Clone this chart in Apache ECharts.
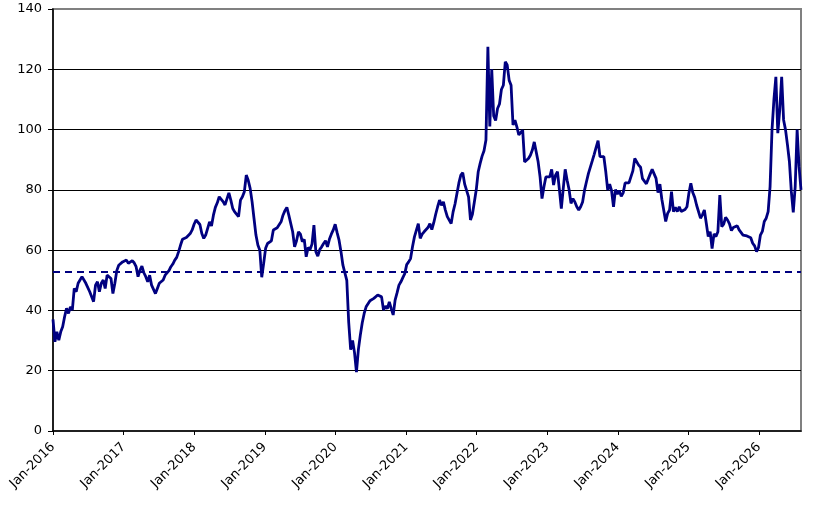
<!DOCTYPE html>
<html>
<head>
<meta charset="utf-8">
<script src="https://cdn.jsdelivr.net/npm/echarts@6/dist/echarts.min.js"></script>
<style>
html,body{margin:0;padding:0;background:#fff;}
#chart{width:825px;height:510px;}
</style>
</head>
<body>
<div id="chart"></div>
<script>
// Series sampled every 10 days starting 1 Jan 2016
const startDate = Date.UTC(2016, 0, 1);
const stepDays = 10;
const values = [
  37, 29.6, 32.9, 30.1, 32.9, 34.6, 37.9, 40.7, 39.0, 41.2,
  40.1, 47.3, 46.2, 49.0, 49.5, 51.2, 51.7, 49.0, 49.5, 46.2,
  46.2, 42.9, 48.4, 49.5, 46.2, 49.0, 50.1, 47.3, 51.7, 52.0,
  50.6, 45.6, 49.0, 53.2, 55.0, 55.0, 56.1, 55.8, 56.7, 55.6,
  56.1, 56.5, 55.8, 54.5, 51.2, 53.4, 54.7, 52.5, 51.2, 49.5,
  51.7, 48.4, 48.1, 45.6, 47.3, 49.0, 48.4, 50.1, 51.7, 51.4,
  53.2, 54.5, 55.4, 56.7, 57.6, 59.5, 61.7, 63.6, 63.1, 64.2,
  63.9, 65.5, 66.7, 68.6, 70.0, 70.3, 68.5, 65.5, 63.9, 65.0,
  65.5, 69.4, 68.0, 71.6, 74.2, 75.7, 77.7, 78.3, 76.1, 75.0,
  74.4, 79.0, 76.6, 73.8, 72.7, 73.3, 71.1, 76.6, 77.7, 79.4,
  84.9, 83.2, 80.5, 76.1, 70.5, 65.0, 61.7, 60.0, 51.0, 55.6,
  60.6, 62.2, 62.4, 63.1, 66.7, 66.1, 67.4, 68.0, 69.4, 71.6,
  73.1, 74.2, 71.6, 72.2, 66.1, 61.1, 63.1, 66.1, 65.3, 62.8,
  63.6, 57.8, 60.9, 60.2, 62.0, 68.3, 59.5, 58.0, 60.2, 61.1,
  62.2, 63.1, 61.1, 63.6, 65.3, 66.7, 68.6, 65.8, 63.3, 59.5,
  55.0, 54.5, 50.0, 36, 27, 30, 26, 19.5, 27, 31.8,
  35.9, 39.0, 41.2, 41.7, 43.2, 43.2, 44.0, 44.5, 45.1, 45.6,
  44.5, 40.1, 41.4, 40.6, 42.8, 40.6, 38.5, 43.4, 45.8, 48.4,
  49.5, 50.9, 52.2, 55.2, 56.1, 57.2, 61.1, 64.4, 64.4, 68.8,
  63.9, 65.3, 66.1, 66.1, 67.5, 68.8, 66.8, 69.1, 71.9, 74.4,
  76.6, 74.9, 76.0, 73.3, 71.1, 70.5, 68.8, 72.7, 75.3, 78.8,
  82.3, 84.9, 85.7, 81.9, 82.1, 77.7, 70.0, 71.9, 76.0, 80.1,
  86.0, 88.8, 91.2, 93.0, 96.5, 127.5, 101, 120, 104.5, 103,
  107, 108.5, 113.3, 114.7, 122.5, 121.4, 116.4, 114.7, 101.5, 103.1,
  100.9, 98.2, 98.7, 99.8, 89.3, 89.9, 90.4, 91.5, 93.2, 95.9,
  96.5, 89.3, 84.3, 77.1, 81.0, 84.3, 83.8, 84.3, 86.8, 81.6,
  84.9, 86.0, 80.1, 73.8, 80.5, 86.8, 83.2, 80.1, 75.5, 77.1,
  76.0, 74.4, 73.3, 74.4, 76.0, 79.9, 82.7, 85.4, 86.0, 89.6,
  91.8, 94.1, 96.3, 91.0, 90.4, 91.0, 86.0, 79.9, 81.9, 79.7,
  74.4, 80.1, 78.6, 79.7, 77.9, 79.0, 82.3, 82.9, 82.3, 84.3,
  86.3, 90.4, 90.1, 88.2, 87.5, 83.7, 83.1, 82, 81.5, 85.3,
  86.8, 86.4, 83.8, 79.1, 81.9, 76.9, 76.6, 69.5, 72.2, 73.3,
  79.4, 72.8, 74.2, 72.8, 74.4, 72.8, 72.8, 73.5, 74.4, 78.9,
  82.2, 79.1, 77.5, 74.9, 74.4, 70.6, 71.7, 73.3, 68.9, 64.5,
  66.1, 60.5, 65.4, 64.5, 66.1, 78.3, 67.8, 68.6, 70.9, 70.0,
  68.7, 66.5, 67.5, 67.8, 68.1, 66.7, 66.1, 65.0, 64.5, 64.7,
  64.3, 64.1, 62.3, 61.4, 59.5, 60.8, 65.0, 66.2, 69.5, 70.6,
  72.8, 81.1, 99.9, 110, 117.5, 98.8, 106.5, 117.5, 103.2, 99.9,
  94.9, 89.4, 79.4, 72.5, 81.1, 100, 87.7, 80
];
const referenceLevel = 52.7;
const yTicks = { min: 0, max: 140, interval: 20 };
const monthNames = ['Jan','Feb','Mar','Apr','May','Jun','Jul','Aug','Sep','Oct','Nov','Dec'];

const DAY = 86400000;
const seriesData = values.map((v, i) => [startDate + i * stepDays * DAY, v]);
const endDate = seriesData[seriesData.length - 1][0];

const chart = echarts.init(document.getElementById('chart'), null, { renderer: 'canvas' });
chart.setOption({
  animation: false,
  useUTC: true,
  backgroundColor: '#ffffff',
  grid: {
    left: 53, right: 24, top: 9, bottom: 79,
    show: true, borderColor: '#808080', borderWidth: 2, backgroundColor: '#ffffff'
  },
  xAxis: {
    type: 'time',
    min: startDate,
    max: endDate,
    minInterval: 365 * DAY,
    maxInterval: 366 * DAY,
    axisLine: { show: true, lineStyle: { color: '#000', width: 1.5 } },
    axisTick: { show: true, length: 4, lineStyle: { color: '#000' } },
    splitLine: { show: false },
    axisLabel: {
      rotate: 45,
      margin: 14,
      color: '#000',
      fontFamily: 'DejaVu Sans',
      fontSize: 13,
      showMaxLabel: false,
      hideOverlap: false,
      formatter: function (val) {
        const d = new Date(val);
        return monthNames[d.getUTCMonth()] + '-' + d.getUTCFullYear();
      }
    }
  },
  yAxis: {
    type: 'value',
    min: yTicks.min, max: yTicks.max, interval: yTicks.interval,
    axisLine: { show: true, lineStyle: { color: '#000', width: 1.5 } },
    axisTick: { show: true, length: 5, lineStyle: { color: '#000' } },
    splitLine: { show: true, showMaxLine: false, showMinLine: false, lineStyle: { color: '#000', width: 1 } },
    axisLabel: { color: '#000', fontFamily: 'DejaVu Sans', fontSize: 13, margin: 11 }
  },
  series: [{
    type: 'line',
    data: seriesData,
    showSymbol: false,
    lineStyle: { color: '#000080', width: 2.8 },
    itemStyle: { color: '#000080' },
    markLine: {
      silent: true,
      symbol: 'none',
      label: { show: false },
      lineStyle: { color: '#000080', type: [7, 5], width: 2 },
      data: [{ yAxis: referenceLevel }]
    }
  }]
});
</script>
</body>
</html>
